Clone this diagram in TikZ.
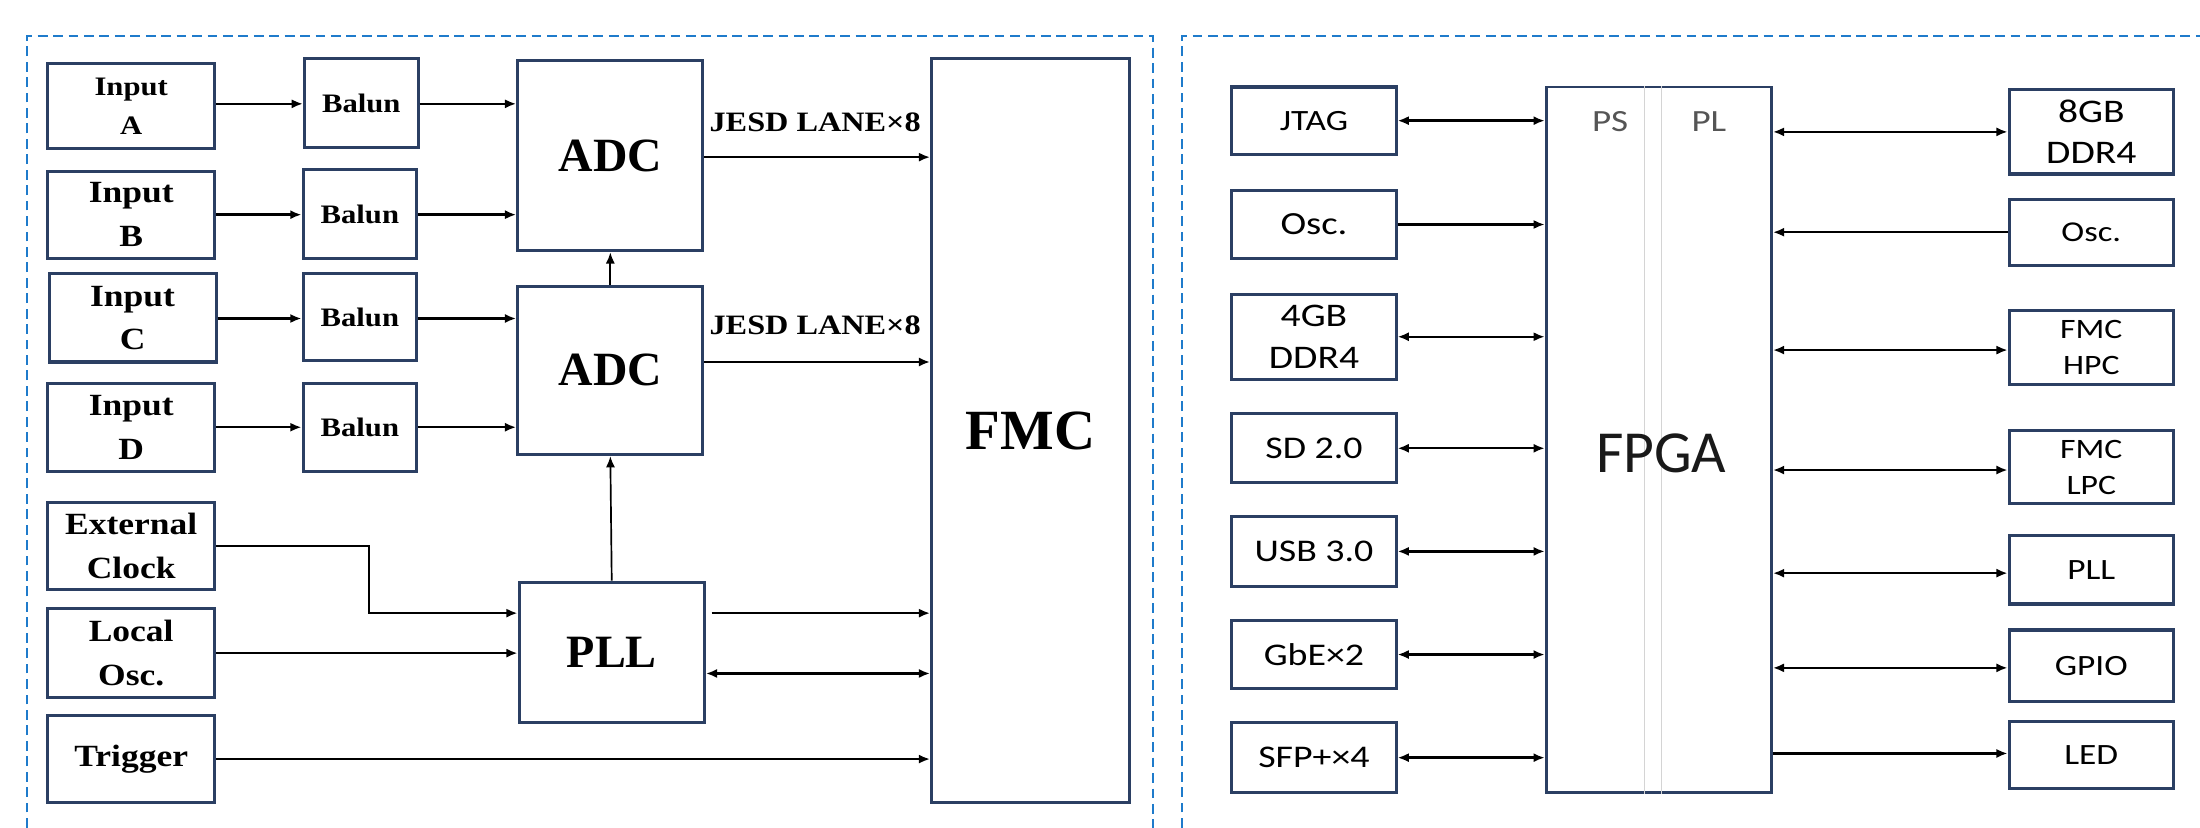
\documentclass[tikz,border=0pt]{standalone}
\usepackage{fontspec}
\usetikzlibrary{arrows.meta,calc}
\newfontfamily\tnrb[FakeStretch=1.15]{Liberation Serif}
\newfontfamily\tnrbig{Liberation Serif}
\newfontfamily\carl{Carlito}
\newfontfamily\carlw[FakeStretch=1.2]{Carlito}
\definecolor{navy}{HTML}{2B3F63}
\definecolor{dashblue}{HTML}{1F7BCB}
\definecolor{sepgray}{HTML}{D4D4D4}
\definecolor{psgray}{HTML}{555555}
\tikzset{
 lb/.style={draw=navy, line width=2.2pt, fill=white, inner sep=0pt, align=center,
   font=\tnrb\bfseries\fontsize{22}{31}\selectfont},
 big/.style={font=\tnrbig\bfseries\fontsize{#1}{#1}\selectfont},
 rb/.style={draw=navy, line width=2.2pt, fill=white, inner sep=0pt, align=center,
   minimum width=117pt, font=\carlw\fontsize{22}{30}\selectfont},
 rf/.style={font=\carlw\fontsize{#1}{29.7}\selectfont},
 arr/.style={line width=1.7pt, -{Latex[length=8pt,width=6.5pt]}},
 barr/.style={line width=1.7pt, {Latex[length=8pt,width=6.5pt]}-{Latex[length=8pt,width=6.5pt]}},
 panel/.style={dashblue, line width=1.6pt, dash pattern=on 7pt off 4pt},
 lbl/.style={font=\tnrb\bfseries\fontsize{20}{24}\selectfont, inner sep=0pt},
}
\begin{document}
\begin{tikzpicture}[x=1pt,y=-1pt]
\useasboundingbox[fill=white] (0,0) rectangle (1568,590);

% panels
\draw[panel] (19.2,590) -- (19.2,25.7) -- (821.6,25.7) -- (821.6,590);
\draw[panel] (842.3,590) -- (842.3,25.7) -- (1568,25.7);

% ---------- left panel ----------
\node[lb, minimum width=119pt, minimum height=61pt, font=\tnrb\bfseries\fontsize{19}{28}\selectfont] (inA) at (93.5,75.5) {Input\\A};
\node[lb, minimum width=119pt, minimum height=62pt] (inB) at (93.5,153) {Input\\B};
\node[lb, minimum width=119pt, minimum height=63pt] (inC) at (94.5,226.5) {Input\\C};
\node[lb, minimum width=119pt, minimum height=63pt] (inD) at (93.5,304.5) {Input\\D};
\node[lb, minimum width=119pt, minimum height=62pt] (ext) at (93.5,389) {External\\Clock};
\node[lb, minimum width=119pt, minimum height=63pt] (loc) at (93.5,465.5) {Local\\Osc.};
\node[lb, minimum width=119pt, minimum height=62pt] (trig) at (93.5,541) {Trigger};

\node[lb, minimum width=81pt, minimum height=63pt, font=\tnrb\bfseries\fontsize{19}{24}\selectfont] (balA) at (257.5,73.5) {Balun};
\node[lb, minimum width=81pt, minimum height=63pt, font=\tnrb\bfseries\fontsize{19}{24}\selectfont] (balB) at (256.5,152.5) {Balun};
\node[lb, minimum width=81pt, minimum height=62pt, font=\tnrb\bfseries\fontsize{19}{24}\selectfont] (balC) at (256.5,226) {Balun};
\node[lb, minimum width=81pt, minimum height=63pt, font=\tnrb\bfseries\fontsize{19}{24}\selectfont] (balD) at (256.5,304.5) {Balun};

\node[lb, big=34, minimum width=132pt, minimum height=135.5pt] (adc1) at (435,111) {ADC};
\node[lb, big=34, minimum width=132pt, minimum height=120pt] (adc2) at (435,264) {ADC};
\node[lb, big=33, minimum width=132pt, minimum height=100pt] (pll) at (436,465) {PLL};
\node[lb, big=40.5, minimum width=141pt, minimum height=530pt] (fmc) at (734.5,307) {FMC};

\node[lbl] (jesd1) at (581,87) {JESD LANE×8};
\node[lbl] (jesd2) at (581,232) {JESD LANE×8};

\draw[arr] ([yshift=1.5pt]inA.east) -- ([yshift=1.5pt]inA.east -| balA.west);
\draw[arr] (inB.east) -- (inB.east -| balB.west);
\draw[arr] ([yshift=-0.5pt]inC.east) -- ([yshift=-0.5pt]inC.east -| balC.west);
\draw[arr] (inD.east) -- (inD.east -| balD.west);
\draw[arr] ([yshift=1.5pt]inA.east -| balA.east) -- ([yshift=1.5pt]inA.east -| adc1.west);
\draw[arr] (inB.east -| balB.east) -- (inB.east -| adc1.west);
\draw[arr] ([yshift=-0.5pt]inC.east -| balC.east) -- ([yshift=-0.5pt]inC.east -| adc2.west);
\draw[arr] (inD.east -| balD.east) -- (inD.east -| adc2.west);

\draw[arr, line width=1.2pt] (adc2.north) -- (adc1.south);
\draw[arr, line width=1.2pt] (pll.north) -- (adc2.south);

\draw[arr] ([yshift=-1pt]adc1.east) -- ([yshift=-1pt]adc1.east -| fmc.west);
\draw[arr] ([yshift=6pt]adc2.east) -- ([yshift=6pt]adc2.east -| fmc.west);

\draw[arr] (ext.east) -- ++(109,0) |- ([yshift=28pt]pll.west);
\draw[arr] (loc.east) -- (loc.east -| pll.west);
\draw[arr] ([xshift=4pt,yshift=28pt]pll.east) -- ([yshift=28pt]pll.east -| fmc.west);
\draw[barr] ([yshift=-15pt]pll.east) -- ([yshift=-15pt]pll.east -| fmc.west);
\draw[arr] (trig.east) -- (trig.east -| fmc.west);

% ---------- right panel ----------
\node[rb, rf=21, minimum height=48pt] (jtag) at (936.5,86) {JTAG};
\node[rb, rf=23, minimum height=48pt] (oscL) at (936.5,160) {Osc.};
\node[rb, rf=23.5, minimum height=60.5pt] (ddr4) at (936.5,240) {4GB\\DDR4};
\node[rb, rf=22.5, minimum height=49pt] (sd) at (936.5,319.5) {SD 2.0};
\node[rb, rf=22.5, minimum height=49.5pt] (usb) at (936.5,393) {USB 3.0};
\node[rb, rf=22.5, minimum height=49pt] (gbe) at (936.5,466.5) {GbE×2};
\node[rb, rf=22.5, minimum height=49.5pt] (sfp) at (936.5,540) {SFP+×4};

\node[draw=navy, line width=2pt, fill=white, minimum width=160.6pt, minimum height=503pt, inner sep=0pt] (fpga) at (1182.3,313.5) {};
\draw[sepgray, line width=1pt] (fpga.north -| 1172,0) -- (fpga.south -| 1172,0);
\draw[sepgray, line width=1pt] (fpga.north -| 1184,0) -- (fpga.south -| 1184,0);
\node[font=\carlw\fontsize{22}{28}\selectfont, text=psgray, inner sep=0pt] (ps) at (1147.6,87) {PS};
\node[font=\carlw\fontsize{22}{28}\selectfont, text=psgray, inner sep=0pt] (pl) at (1218,87) {PL};
\node[font=\carl\fontsize{42.5}{48}\selectfont, text=black!90, inner sep=0pt] (fpgat) at (1184,323) {FPGA};

\node[rb, rf=23.5, minimum height=60pt] (ddr8) at (1490.5,94) {8GB\\DDR4};
\node[rb, rf=20.5, minimum height=47pt] (oscR) at (1490.5,165.5) {Osc.};
\node[rb, minimum height=53pt, font=\carlw\fontsize{20}{26}\selectfont] (hpc) at (1490.5,247.5) {FMC\\HPC};
\node[rb, minimum height=52pt, font=\carlw\fontsize{20}{26}\selectfont] (lpc) at (1490.5,333) {FMC\\LPC};
\node[rb, rf=21, minimum height=49pt] (pllR) at (1490.5,406) {PLL};
\node[rb, rf=21, minimum height=51pt] (gpio) at (1490.5,474.5) {GPIO};
\node[rb, rf=21, minimum height=48pt] (led) at (1490.5,538) {LED};

\draw[barr] (jtag.east) -- (jtag.east -| fpga.west);
\draw[arr] (oscL.east) -- (oscL.east -| fpga.west);
\draw[barr] (ddr4.east) -- (ddr4.east -| fpga.west);
\draw[barr] (sd.east) -- (sd.east -| fpga.west);
\draw[barr] (usb.east) -- (usb.east -| fpga.west);
\draw[barr] (gbe.east) -- (gbe.east -| fpga.west);
\draw[barr] (sfp.east) -- (sfp.east -| fpga.west);

\draw[barr] (ddr8.west -| fpga.east) -- (ddr8.west);
\draw[arr] (oscR.west) -- (oscR.west -| fpga.east);
\draw[barr] ([yshift=-2pt]hpc.west -| fpga.east) -- ([yshift=-2pt]hpc.west);
\draw[barr] ([yshift=-2pt]lpc.west -| fpga.east) -- ([yshift=-2pt]lpc.west);
\draw[barr] ([yshift=-2.5pt]pllR.west -| fpga.east) -- ([yshift=-2.5pt]pllR.west);
\draw[barr] ([yshift=-1.5pt]gpio.west -| fpga.east) -- ([yshift=-1.5pt]gpio.west);
\draw[arr] ([yshift=1pt]led.west -| fpga.east) -- ([yshift=1pt]led.west);
\end{tikzpicture}
\end{document}
